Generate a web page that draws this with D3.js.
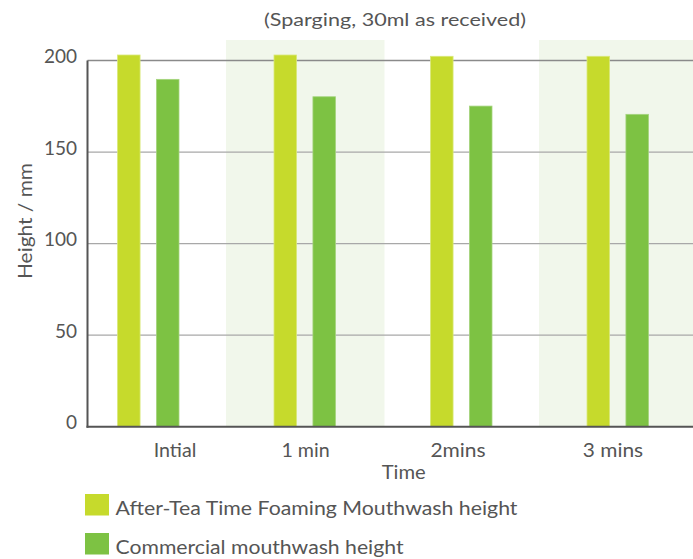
<!DOCTYPE html>
<html><head><meta charset="utf-8">
<script src="https://cdn.jsdelivr.net/npm/d3@7"></script>
<style>
html,body{margin:0;padding:0;background:#fff;}
svg text{font-family:Lato,"Open Sans",sans-serif;fill:#555;}
</style></head>
<body>
<svg id="chart" width="693" height="559"></svg>
<script>
const categories = ["Intial", "1 min", "2mins", "3 mins"];
const seriesNames = ["After-Tea Time Foaming Mouthwash height", "Commercial mouthwash height"];
const afterTea = [203, 203, 202.3, 202.3];
const commercial = [189.7, 180.2, 175.1, 170.6];
const yTicks = [0, 50, 100, 150, 200];
const colors = ["#c6da2c", "#7dc243"];

// layout (text widths matched to reference typeface)
const catLabelWidths = [42.7, 48.3, 55.3, 60.3];
const catLabelNudge = [27.3, 1.3, -2.7, -4.3];
const legendWidths = [402, 288];

const svg = d3.select("#chart");
const axisX = 87.5, plotRight = 693;
const x = d3.scaleBand().domain(categories).range([69.5, 695.5]);
const x1 = d3.scaleBand().domain(seriesNames).range([48, 109.5]).paddingInner(0.42);
const y = d3.scaleLinear().domain([0, 200]).range([426.7, 60.5]);

function fit(sel, w){ sel.attr("textLength", w).attr("lengthAdjust", "spacingAndGlyphs"); }

// alternating background bands
svg.append("g").selectAll("rect").data(categories.filter((d,i)=>i%2===1)).join("rect")
  .attr("x", d=>x(d)).attr("width", x.bandwidth()+2)
  .attr("y", 40).attr("height", y(0)-40)
  .attr("fill", "#f1f7eb");

// gridlines
svg.append("g").selectAll("line").data(yTicks.filter(d=>d>0)).join("line")
  .attr("x1", axisX).attr("x2", plotRight)
  .attr("y1", d=>y(d)).attr("y2", d=>y(d))
  .attr("stroke", d=>d===200?"#8a8a8a":"#a8a8a8").attr("stroke-width", 1.3);

// bars
const rows = categories.map((c,i)=>({cat:c, vals:[afterTea[i], commercial[i]]}));
const g = svg.append("g").selectAll("g").data(rows).join("g")
  .attr("transform", d=>`translate(${x(d.cat)},0)`);
g.selectAll("rect").data(d=>d.vals.map((v,j)=>({name:seriesNames[j], v, j}))).join("rect")
  .attr("x", d=>x1(d.name)).attr("width", x1.bandwidth())
  .attr("y", d=>y(d.v)).attr("height", d=>y(0)-y(d.v))
  .attr("fill", d=>colors[d.j])
  .attr("stroke", d=>d.j===0?"#d9e87a":"#a5d47e").attr("stroke-width", 0.8);

// axes lines
svg.append("line").attr("x1", axisX).attr("x2", axisX).attr("y1", y(200)).attr("y2", y(0)+1)
  .attr("stroke", "#555").attr("stroke-width", 2);
svg.append("line").attr("x1", axisX-1).attr("x2", plotRight).attr("y1", y(0)).attr("y2", y(0))
  .attr("stroke", "#555").attr("stroke-width", 2);

// y tick labels
svg.append("g").selectAll("text").data(yTicks).join("text")
  .attr("x", 77).attr("y", d=>y(d)+2.5)
  .attr("text-anchor", "end").attr("font-size", 19)
  .text(d=>d);

// x tick labels
svg.append("g").selectAll("text").data(categories).join("text")
  .attr("x", (d,i)=>x(d)+x.bandwidth()/2+catLabelNudge[i]).attr("y", 456.5)
  .attr("text-anchor", "middle").attr("font-size", 19)
  .text(d=>d)
  .each(function(d,i){ fit(d3.select(this), catLabelWidths[i]); });

// axis titles
svg.append("text").attr("x", 403.7).attr("y", 479).attr("text-anchor", "middle")
  .attr("font-size", 19).text("Time").call(fit, 44);
svg.append("text").attr("transform", "translate(32,221) rotate(-90)")
  .attr("text-anchor", "middle").attr("font-size", 19).text("Height / mm").call(fit, 116);

// title
svg.append("text").attr("x", 395).attr("y", 25.5).attr("text-anchor", "middle")
  .attr("font-size", 17.5).text("(Sparging, 30ml as received)").call(fit, 262);

// legend
const lg = svg.append("g").selectAll("g").data(seriesNames).join("g")
  .attr("transform", (d,i)=>`translate(85,${494 + i*39})`);
lg.append("rect").attr("width", 24).attr("height", 21.5).attr("fill", (d,i)=>colors[i]);
lg.append("text").attr("x", 30.5).attr("y", 21.3).attr("font-size", 19.5).text(d=>d)
  .each(function(d,i){ fit(d3.select(this), legendWidths[i]); });
</script>
</body></html>
